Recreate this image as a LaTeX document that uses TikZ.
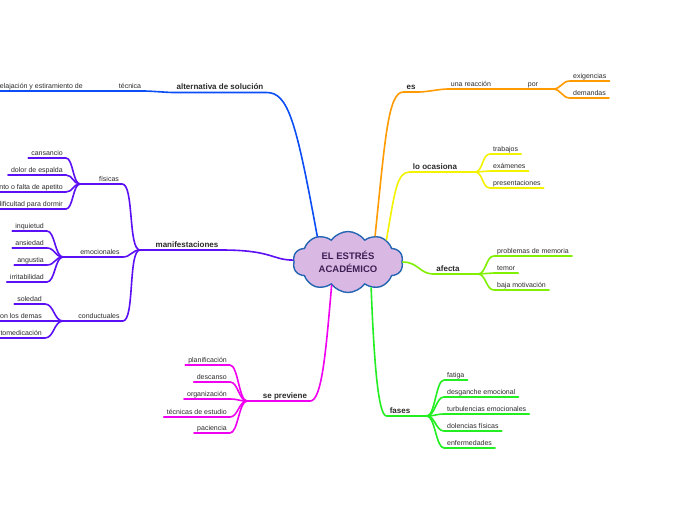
\documentclass[tikz,border=0pt]{standalone}
\usepackage{fontspec}
\setsansfont{Liberation Sans}
\usetikzlibrary{shapes.symbols}

\definecolor{ink}{HTML}{2B2B2B}
\definecolor{rootink}{HTML}{3E1F55}
\definecolor{cloudfill}{HTML}{D9B8E3}
\definecolor{cloudline}{HTML}{2466B4}
\definecolor{brblue}{HTML}{0B4EF5}
\definecolor{brpurple}{HTML}{5B0FF5}
\definecolor{brmagenta}{HTML}{F000F0}
\definecolor{brorange}{HTML}{FF9A00}
\definecolor{bryellow}{HTML}{F3F300}
\definecolor{brlime}{HTML}{80F000}
\definecolor{brgreen}{HTML}{22EE22}

\begin{document}
\begin{tikzpicture}[x=1pt, y=-1pt,
  leaf/.style={font=\sffamily\fontsize{7}{8}\selectfont, text=ink, inner xsep=3pt, inner ysep=1.2pt, text height=5pt, text depth=1.5pt},
  topic/.style={leaf, font=\sffamily\bfseries\fontsize{8}{9}\selectfont},
  branch/.style={line width=1.6pt, line cap=round, line join=round},
  core/.style={cloud, cloud puffs=10, cloud puff arc=110, aspect=1.9, draw=cloudline, fill=cloudfill, line width=1.4pt, minimum width=110pt, minimum height=60pt, align=center, font=\sffamily\bfseries\fontsize{9.5}{12.5}\selectfont, text=rootink},
]
\path[use as bounding box, fill=white] (0,0) rectangle (696,520);

% ── CENTRE ──
\node[core] (root) at (348,262) {EL ESTRÉS\\ACADÉMICO};

% ── BLUE: alternativa de solución ──
\node[topic, anchor=south] (alt) at (220,92.5) {alternativa de solución};
\node[leaf, anchor=south] (tec) at (130,91) {técnica};
\node[leaf, anchor=south east] (relax) at (86,91) {relajación y estiramiento de};

\draw[branch, brblue] (relax.south west) -- (relax.south east) -- (tec.south west) -- (tec.south east) .. controls +(6,0) and +(-6,0) .. (alt.south west) -- (alt.south east) .. controls (288,92.5) and (296,120) .. (root.140);

% ── PURPLE: manifestaciones ──
\coordinate (mhub) at (140,250);
\coordinate (fhub) at (80,184);
\coordinate (ehub) at (63,257);
\coordinate (chub) at (63,321);
\node[topic, anchor=south] (mani) at (187,250) {manifestaciones};
\node[leaf, anchor=south] (fis) at (109,184) {físicas};
\node[leaf, anchor=south] (emo) at (100,257) {emocionales};
\node[leaf, anchor=south] (cond) at (99,321) {conductuales};

\node[leaf, anchor=south east] (cans) at (66,158) {cansancio};
\node[leaf, anchor=south east] (back) at (66,175) {dolor de espalda};
\node[leaf, anchor=south east] (appet) at (66,192) {aumento o falta de apetito};
\node[leaf, anchor=south east] (sleep) at (66,209) {dificultad para dormir};

\node[leaf, anchor=south east] (restless) at (47,231) {inquietud};
\node[leaf, anchor=south east] (anx) at (47,248) {ansiedad};
\node[leaf, anchor=south east] (anguish) at (47,265) {angustia};
\node[leaf, anchor=south east] (irrit) at (47,282) {irritabilidad};

\node[leaf, anchor=south east] (alone) at (45,304) {soledad};
\node[leaf, anchor=south east] (others) at (45,321) {conflictos con los demas};
\node[leaf, anchor=south east] (selfmed) at (45,338) {automedicación};

\draw[branch, brpurple] (mhub) -- (mani.south west) -- (mani.south east) .. controls (272,250) and (272,260) .. (root.178);
\draw[branch, brpurple] (fhub) -- (fis.south west) -- (fis.south east) .. controls +(12,0) and +(-12,0) .. (mhub);
\draw[branch, brpurple] (ehub) -- (emo.south west) -- (emo.south east) .. controls +(8,0) and +(-8,0) .. (mhub);
\draw[branch, brpurple] (chub) -- (cond.south west) -- (cond.south east) .. controls +(12,0) and +(-12,0) .. (mhub);

\draw[branch, brpurple] (cans.south west) -- (cans.south east) .. controls +(7,0) and +(-7,0) .. (fhub);
\draw[branch, brpurple] (back.south west) -- (back.south east) .. controls +(7,0) and +(-7,0) .. (fhub);
\draw[branch, brpurple] (appet.south west) -- (appet.south east) .. controls +(7,0) and +(-7,0) .. (fhub);
\draw[branch, brpurple] (sleep.south west) -- (sleep.south east) .. controls +(7,0) and +(-7,0) .. (fhub);

\draw[branch, brpurple] (restless.south west) -- (restless.south east) .. controls +(8,0) and +(-8,0) .. (ehub);
\draw[branch, brpurple] (anx.south west) -- (anx.south east) .. controls +(8,0) and +(-8,0) .. (ehub);
\draw[branch, brpurple] (anguish.south west) -- (anguish.south east) .. controls +(8,0) and +(-8,0) .. (ehub);
\draw[branch, brpurple] (irrit.south west) -- (irrit.south east) .. controls +(8,0) and +(-8,0) .. (ehub);

\draw[branch, brpurple] (alone.south west) -- (alone.south east) .. controls +(9,0) and +(-9,0) .. (chub);
\draw[branch, brpurple] (others.south west) -- (others.south east) -- (chub);
\draw[branch, brpurple] (selfmed.south west) -- (selfmed.south east) .. controls +(9,0) and +(-9,0) .. (chub);

% ── MAGENTA: se previene ──
\coordinate (phub) at (247,401);
\node[topic, anchor=south] (prev) at (285,401) {se previene};
\node[leaf, anchor=south east] (plan) at (230,365) {planificación};
\node[leaf, anchor=south east] (rest) at (230,382) {descanso};
\node[leaf, anchor=south east] (org) at (230,399) {organización};
\node[leaf, anchor=south east] (study) at (230,417) {técnicas de estudio};
\node[leaf, anchor=south east] (pat) at (230,433) {paciencia};

\draw[branch, brmagenta] (phub) -- (prev.south west) -- (prev.south east) .. controls (322,401) and (326,350) .. (root.235);
\draw[branch, brmagenta] (plan.south west) -- (plan.south east) .. controls +(8,0) and +(-8,0) .. (phub);
\draw[branch, brmagenta] (rest.south west) -- (rest.south east) .. controls +(8,0) and +(-8,0) .. (phub);
\draw[branch, brmagenta] (org.south west) -- (org.south east) .. controls +(8,0) and +(-8,0) .. (phub);
\draw[branch, brmagenta] (study.south west) -- (study.south east) .. controls +(8,0) and +(-8,0) .. (phub);
\draw[branch, brmagenta] (pat.south west) -- (pat.south east) .. controls +(8,0) and +(-8,0) .. (phub);

% ── ORANGE: es ──
\coordinate (ohub) at (553,89);
\node[topic, anchor=south] (es) at (411,92) {es};
\node[leaf, anchor=south] (react) at (471,89) {una reacción};
\node[leaf, anchor=south] (por) at (533,89) {por};
\node[leaf, anchor=south west] (demands1) at (570,81) {exigencias};
\node[leaf, anchor=south west] (demands2) at (570,98) {demandas};

\draw[branch, brorange] (root.44) .. controls (385,140) and (388,92) .. (es.south west) -- (es.south east) .. controls +(8,0) and +(-8,0) .. (react.south west) -- (react.south east) -- (por.south west) -- (por.south east) -- (ohub);
\draw[branch, brorange] (ohub) .. controls +(8,0) and +(-8,0) .. (demands1.south west) -- (demands1.south east);
\draw[branch, brorange] (ohub) .. controls +(8,0) and +(-8,0) .. (demands2.south west) -- (demands2.south east);

% ── YELLOW: lo ocasiona ──
\coordinate (yhub) at (475,172);
\node[topic, anchor=south] (cause) at (435,172) {lo ocasiona};
\node[leaf, anchor=south west] (work) at (490,154) {trabajos};
\node[leaf, anchor=south west] (exam) at (490,171) {exámenes};
\node[leaf, anchor=south west] (talk) at (490,188) {presentaciones};

\draw[branch, bryellow] (root.30) .. controls (395,190) and (397,172) .. (cause.south west) -- (cause.south east) -- (yhub);
\draw[branch, bryellow] (yhub) .. controls +(8,0) and +(-8,0) .. (work.south west) -- (work.south east);
\draw[branch, bryellow] (yhub) .. controls +(8,0) and +(-8,0) .. (exam.south west) -- (exam.south east);
\draw[branch, bryellow] (yhub) .. controls +(8,0) and +(-8,0) .. (talk.south west) -- (talk.south east);

% ── LIME: afecta ──
\coordinate (ahub) at (478,274);
\node[topic, anchor=south] (affect) at (448,274) {afecta};
\node[leaf, anchor=south west] (memory) at (494,256) {problemas de memoria};
\node[leaf, anchor=south west] (fear) at (494,273) {temor};
\node[leaf, anchor=south west] (motiv) at (494,290) {baja motivación};

\draw[branch, brlime] (root.0) .. controls (418,262) and (420,274) .. (affect.south west) -- (affect.south east) -- (ahub);
\draw[branch, brlime] (ahub) .. controls +(8,0) and +(-8,0) .. (memory.south west) -- (memory.south east);
\draw[branch, brlime] (ahub) .. controls +(8,0) and +(-8,0) .. (fear.south west) -- (fear.south east);
\draw[branch, brlime] (ahub) .. controls +(8,0) and +(-8,0) .. (motiv.south west) -- (motiv.south east);

% ── GREEN: fases ──
\coordinate (ghub) at (427,416);
\node[topic, anchor=south] (phase) at (400,416) {fases};
\node[leaf, anchor=south west] (tired) at (444,380) {fatiga};
\node[leaf, anchor=south west] (drain) at (444,397) {desganche emocional};
\node[leaf, anchor=south west] (turmoil) at (444,414) {turbulencias emocionales};
\node[leaf, anchor=south west] (pain) at (444,431) {dolencias físicas};
\node[leaf, anchor=south west] (ill) at (444,448) {enfermedades};

\draw[branch, brgreen] (root.312) .. controls (374,360) and (378,416) .. (phase.south west) -- (phase.south east) -- (ghub);
\draw[branch, brgreen] (ghub) .. controls +(8,0) and +(-8,0) .. (tired.south west) -- (tired.south east);
\draw[branch, brgreen] (ghub) .. controls +(8,0) and +(-8,0) .. (drain.south west) -- (drain.south east);
\draw[branch, brgreen] (ghub) .. controls +(8,0) and +(-8,0) .. (turmoil.south west) -- (turmoil.south east);
\draw[branch, brgreen] (ghub) .. controls +(8,0) and +(-8,0) .. (pain.south west) -- (pain.south east);
\draw[branch, brgreen] (ghub) .. controls +(8,0) and +(-8,0) .. (ill.south west) -- (ill.south east);

\end{tikzpicture}
\end{document}
